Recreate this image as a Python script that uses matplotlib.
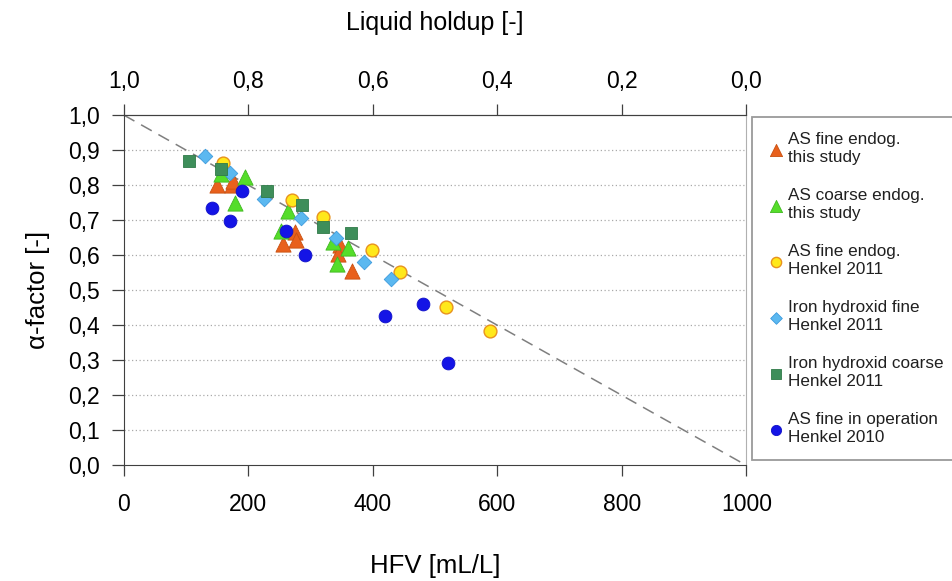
import numpy as np
import matplotlib
matplotlib.use('Agg')
import matplotlib.pyplot as plt
from matplotlib.ticker import FuncFormatter

plt.rcParams['font.family'] = ['Liberation Sans', 'DejaVu Sans']

# Daten
as_fine_x = [150, 174, 176, 275, 276, 255, 347, 344, 367]
as_fine_y = [0.799, 0.799, 0.813, 0.666, 0.644, 0.632, 0.628, 0.604, 0.556]

as_coarse_x = [156, 194, 178, 263, 252, 336, 360, 342]
as_coarse_y = [0.832, 0.822, 0.748, 0.727, 0.670, 0.637, 0.621, 0.576]

henkel_fine_x = [160, 270, 320, 399, 443, 518, 589]
henkel_fine_y = [0.862, 0.758, 0.708, 0.616, 0.552, 0.452, 0.384]

iron_fine_x = [131, 171, 225, 285, 341, 386, 430]
iron_fine_y = [0.882, 0.834, 0.760, 0.707, 0.650, 0.580, 0.533]

iron_coarse_x = [105, 156, 230, 286, 320, 365]
iron_coarse_y = [0.868, 0.846, 0.782, 0.744, 0.680, 0.663]

operation_x = [141, 170, 190, 260, 291, 420, 480, 521]
operation_y = [0.734, 0.698, 0.784, 0.670, 0.601, 0.426, 0.461, 0.293]

labels = ['AS fine endog.\nthis study', 'AS coarse endog.\nthis study',
          'AS fine endog.\nHenkel 2011', 'Iron hydroxid fine\nHenkel 2011',
          'Iron hydroxid coarse\nHenkel 2011', 'AS fine in operation\nHenkel 2010']

komma = FuncFormatter(lambda v, p: ('%.1f' % v).replace('.', ','))

fig = plt.figure(figsize=(9.52, 5.81), dpi=100)
ax = fig.add_axes([0.130, 0.199, 0.654, 0.603])

# Linie alpha = 1 - HFV/1000
ax.plot([0, 1000], [1, 0], color='#7f7f7f', lw=1.1, ls=(0, (8, 5)), zorder=1)

ax.scatter(as_fine_x, as_fine_y, marker='^', s=120, color='#E8601C', edgecolor='#C85010', lw=0.6, label=labels[0], zorder=3)
ax.scatter(as_coarse_x, as_coarse_y, marker='^', s=120, color='#55DD2A', edgecolor='#3FB820', lw=0.6, label=labels[1], zorder=3)
ax.scatter(henkel_fine_x, henkel_fine_y, marker='o', s=85, color='#FFE81A', edgecolor='#E8921E', lw=1.0, label=labels[2], zorder=3)
ax.scatter(iron_fine_x, iron_fine_y, marker='D', s=55, color='#5BB8F0', edgecolor='#3D9BDD', lw=0.6, label=labels[3], zorder=3)
ax.scatter(iron_coarse_x, iron_coarse_y, marker='s', s=85, color='#3E8E5A', edgecolor='#2F7A48', lw=0.6, label=labels[4], zorder=3)
ax.scatter(operation_x, operation_y, marker='o', s=85, color='#1414E6', edgecolor='#1010C8', lw=0.6, label=labels[5], zorder=3)

ax.set_xlim(0, 1000)
ax.set_ylim(0, 1)
ax.set_xticks(np.arange(0, 1001, 200))
ax.set_yticks(np.arange(0, 1.01, 0.1))
ax.yaxis.set_major_formatter(komma)
for y in np.arange(0.1, 0.95, 0.1):
    ax.axhline(y, color='#aaaaaa', lw=0.9, ls=(0, (1, 2)), zorder=0)

for s in ['left', 'bottom', 'top']:
    ax.spines[s].set_color('#404040')
ax.spines['right'].set_color('#b0b0b0')
ax.tick_params(axis='y', direction='out', length=9, width=0.9, color='#404040', labelsize=16.5, pad=8)
ax.tick_params(axis='x', direction='out', length=8, width=0.9, color='#404040', labelsize=16.5, pad=12)

ax.set_xlabel('HFV [mL/L]', fontsize=18.5, labelpad=27)
ax.set_ylabel('α-factor [-]', fontsize=18.5, labelpad=13)

sec = ax.secondary_xaxis('top', functions=(lambda x: 1 - x / 1000, lambda h: (1 - h) * 1000))
sec.set_xticks(np.arange(0, 1.01, 0.2))
sec.xaxis.set_major_formatter(komma)
sec.tick_params(direction='out', length=8, width=0.9, color='#404040', labelsize=16.5, pad=8)
sec.spines['top'].set_color('#404040')
sec.set_xlabel('Liquid holdup [-]', fontsize=18, labelpad=29)

leg = fig.legend(loc='upper left', bbox_to_anchor=(752 / 952, 1 - 117 / 581),
                 fontsize=12.3, frameon=True, fancybox=False, edgecolor='#808080',
                 borderpad=0.9, labelspacing=1.38, handletextpad=0.2, handlelength=1.0,
                 markerscale=0.8, borderaxespad=0)
leg.get_frame().set_linewidth(1.3)
for t in leg.get_texts():
    t.set_color('#202020')

fig.savefig('out.png', dpi=100)
